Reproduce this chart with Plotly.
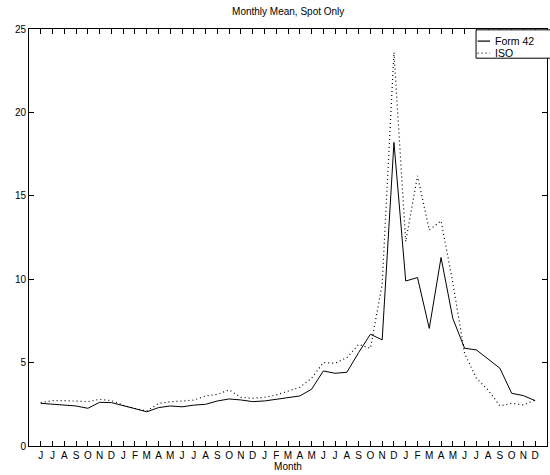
import plotly.graph_objects as go

month_labels = ["J","J","A","S","O","N","D",
                "J","F","M","A","M","J","J","A","S","O","N","D",
                "J","F","M","A","M","J","J","A","S","O","N","D",
                "J","F","M","A","M","J","J","A","S","O","N","D"]
x_idx = list(range(1, len(month_labels) + 1))

form42 = [2.56, 2.5, 2.46, 2.4, 2.26, 2.62, 2.6,
          2.4, 2.24, 2.05, 2.3, 2.4, 2.35, 2.45, 2.5, 2.7, 2.82, 2.76, 2.66,
          2.7, 2.8, 2.9, 3.0, 3.4, 4.5, 4.36, 4.42, 5.6, 6.7, 6.36, 18.2,
          9.89, 10.1, 7.05, 11.3, 7.65, 5.86, 5.76, 5.2, 4.66, 3.16, 3.02, 2.72]
iso = [2.6, 2.72, 2.72, 2.68, 2.66, 2.8, 2.72,
       2.45, 2.25, 2.1, 2.55, 2.65, 2.72, 2.75, 3.0, 3.1, 3.36, 2.92, 2.86,
       2.92, 3.06, 3.3, 3.52, 4.06, 5.0, 4.96, 5.3, 6.1, 5.85, 9.7, 23.6,
       12.25, 16.2, 12.95, 13.5, 9.8, 5.56, 4.06, 3.36, 2.4, 2.56, 2.46, 2.75]

series_names = ["Form 42", "ISO"]
y_ticks = [0, 5, 10, 15, 20, 25]

FONT = "Liberation Sans, Arial, sans-serif"
DOT = "1px,3px"

fig = go.Figure()
fig.add_trace(go.Scatter(x=x_idx, y=form42, mode="lines", name=series_names[0],
                         line=dict(color="black", width=1)))
fig.add_trace(go.Scatter(x=x_idx, y=iso, mode="lines", name=series_names[1],
                         line=dict(color="black", width=1.2, dash=DOT)))

# manual MATLAB-style legend
L, R, T, B = 0.863, 1.01, 0.998, 0.930
fig.add_shape(type="rect", xref="paper", yref="paper", x0=L, x1=R, y0=B, y1=T,
              line=dict(color="black", width=1), fillcolor="white", layer="above")
rows = [0.971, 0.942]
for name, yy, dash in zip(series_names, rows, ["solid", DOT]):
    fig.add_shape(type="line", xref="paper", yref="paper", x0=0.866, x1=0.890,
                  y0=yy, y1=yy, line=dict(color="black", width=1.2, dash=dash),
                  layer="above")
    fig.add_annotation(xref="paper", yref="paper", x=0.895, y=yy, text=name,
                       showarrow=False, xanchor="left", yanchor="middle",
                       font=dict(family=FONT, size=10.5, color="black"))

fig.update_layout(
    width=550, height=475,
    margin=dict(l=29, r=3, t=29, b=29),
    paper_bgcolor="white", plot_bgcolor="white",
    showlegend=False,
    title=dict(text="Monthly Mean, Spot Only", x=0.524, xanchor="center",
               y=0.975, yanchor="middle",
               font=dict(family=FONT, size=10, color="black")),
    font=dict(family=FONT, size=10, color="black"),
)
fig.update_xaxes(range=[0, 44], tickmode="array", tickvals=x_idx, ticktext=month_labels,
                 ticks="inside", ticklen=5, tickcolor="black", mirror="ticks",
                 showline=True, linecolor="black", linewidth=1, showgrid=False,
                 zeroline=False, tickangle=0,
                 title=dict(text="Month", standoff=2, font=dict(family=FONT, size=10)),
                 tickfont=dict(family=FONT, size=10))
fig.update_yaxes(range=[0, 25], tickmode="array", tickvals=y_ticks,
                 ticks="inside", ticklen=5, tickcolor="black", mirror="ticks",
                 showline=True, linecolor="black", linewidth=1, showgrid=False,
                 zeroline=False, tickfont=dict(family=FONT, size=10))

fig.write_html("out.html")
